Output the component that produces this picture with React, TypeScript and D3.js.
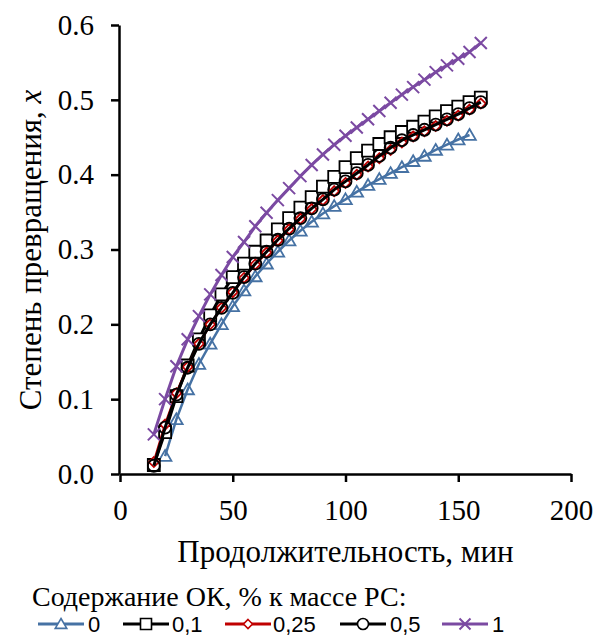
import React, { useEffect, useRef } from 'react';
import * as d3 from 'd3';

const times = [15, 20, 25, 30, 35, 40, 45, 50, 55, 60, 65, 70, 75, 80, 85, 90, 95, 100, 105, 110, 115, 120, 125, 130, 135, 140, 145, 150, 155, 160];

// series "0" starts at 20 min and ends at 155 min
const s0 = [null, 0.024, 0.073, 0.113, 0.147, 0.174, 0.2, 0.224, 0.245, 0.264, 0.281, 0.297, 0.312, 0.325, 0.337, 0.348, 0.358, 0.367, 0.377, 0.386, 0.394, 0.402, 0.41, 0.418, 0.425, 0.433, 0.44, 0.447, 0.453, null];
const s01 = [0.012, 0.056, 0.104, 0.145, 0.18, 0.212, 0.24, 0.263, 0.281, 0.297, 0.312, 0.327, 0.342, 0.356, 0.37, 0.384, 0.397, 0.41, 0.422, 0.432, 0.441, 0.45, 0.457, 0.464, 0.471, 0.478, 0.485, 0.491, 0.497, 0.503];
const s025 = [0.016, 0.066, 0.108, 0.143, 0.174, 0.2, 0.222, 0.243, 0.262, 0.28, 0.296, 0.312, 0.327, 0.341, 0.354, 0.366, 0.378, 0.389, 0.4, 0.411, 0.422, 0.433, 0.443, 0.451, 0.458, 0.465, 0.472, 0.479, 0.487, 0.495];
const s05 = [0.011, 0.062, 0.106, 0.142, 0.174, 0.2, 0.222, 0.242, 0.263, 0.281, 0.297, 0.313, 0.328, 0.342, 0.355, 0.367, 0.38, 0.391, 0.402, 0.413, 0.425, 0.436, 0.446, 0.453, 0.46, 0.467, 0.474, 0.481, 0.489, 0.497];
const s1 = [0.053, 0.1, 0.144, 0.18, 0.211, 0.24, 0.266, 0.29, 0.31, 0.331, 0.349, 0.366, 0.382, 0.398, 0.413, 0.427, 0.44, 0.452, 0.463, 0.474, 0.485, 0.496, 0.507, 0.517, 0.527, 0.537, 0.546, 0.555, 0.564, 0.576];

const seriesNames = ['0', '0,1', '0,25', '0,5', '1'];
const seriesColors = ['#4672A4', '#000000', '#C00000', '#000000', '#7B4AA2'];
const seriesMarkers = ['triangle', 'square', 'diamond', 'circle', 'x'];
const seriesValues = [s0, s01, s025, s05, s1];

const xTicks = [0, 50, 100, 150, 200];
const yTicks = [0, 0.1, 0.2, 0.3, 0.4, 0.5, 0.6];

const W = 598;
const H = 639;
const SERIF = '"Liberation Serif", Tinos, "Times New Roman", "Noto Serif", "DejaVu Serif", FreeSerif, serif';
const SANS = '"Liberation Sans", Arial, sans-serif';

function markerPath(kind: string, s: number) {
  const h = s / 2;
  switch (kind) {
    case 'triangle':
      return `M0,${-h}L${h * 1.05},${h * 0.8}L${-h * 1.05},${h * 0.8}Z`;
    case 'square':
      return `M${-h},${-h}H${h}V${h}H${-h}Z`;
    case 'diamond':
      return `M0,${-h}L${h},0L0,${h}L${-h},0Z`;
    case 'circle':
      return `M${h},0A${h},${h} 0 1,1 ${-h},0A${h},${h} 0 1,1 ${h},0Z`;
    default:
      return `M${-h},${-h}L${h},${h}M${h},${-h}L${-h},${h}`;
  }
}

const markerSize: Record<string, number> = { triangle: 12, square: 12, diamond: 10, circle: 12, x: 12 };
const markerFill: Record<string, string> = { triangle: 'none', square: 'white', diamond: 'white', circle: 'none', x: 'none' };

export default function App() {
  const xAxisRef = useRef<SVGGElement>(null);
  const yAxisRef = useRef<SVGGElement>(null);

  const x = d3.scaleLinear().domain([0, 200]).range([120, 571]);
  const y = d3.scaleLinear().domain([0, 0.6]).range([474, 25]);

  useEffect(() => {
    const xa = d3.select(xAxisRef.current!);
    xa.selectAll('*').remove();
    xa.call(d3.axisBottom(x).tickValues(xTicks).tickSize(8).tickSizeOuter(0).tickPadding(17).tickFormat(d3.format('d')));
    const ya = d3.select(yAxisRef.current!);
    ya.selectAll('*').remove();
    ya.call(d3.axisLeft(y).tickValues(yTicks).tickSize(8).tickSizeOuter(0).tickPadding(17).tickFormat(d3.format('.1f')));
    [xa, ya].forEach(a => {
      a.attr('font-family', null).attr('font-size', null);
      a.selectAll('path.domain').attr('stroke', '#000').attr('stroke-width', 2.5);
      a.selectAll('.tick line').attr('stroke', '#000').attr('stroke-width', 2.5);
      a.selectAll('.tick text')
        .attr('fill', '#000')
        .attr('font-family', SERIF)
        .attr('font-size', 29);
    });
  }, []);

  const line = d3.line<[number, number | null]>()
    .defined(d => d[1] !== null)
    .x(d => x(d[0]))
    .y(d => y(d[1] as number));

  const legendItems = [
    { x0: 38, label: 88 },
    { x0: 123, label: 172 },
    { x0: 225, label: 273 },
    { x0: 340, label: 390 },
    { x0: 442, label: 492 },
  ];

  return (
    <svg width={W} height={H} style={{ position: 'absolute', left: 0, top: 0, background: '#fff' }}>
      <g ref={xAxisRef} transform={`translate(0,${y(0)})`} />
      <g ref={yAxisRef} transform={`translate(${x(0) - 1},0)`} />

      {seriesValues.map((vals, i) => {
        const pts = times.map((t, k) => [t, vals[k]] as [number, number | null]);
        const kind = seriesMarkers[i];
        const lw = i === 0 || i === 2 ? 2.5 : 3;
        return (
          <g key={i}>
            <path d={line(pts) || ''} fill="none" stroke={seriesColors[i]} strokeWidth={lw} strokeLinejoin="round" />
            {pts.filter(p => p[1] !== null).map((p, k) => (
              <path
                key={k}
                d={markerPath(kind, markerSize[kind])}
                transform={`translate(${x(p[0])},${y(p[1] as number)})`}
                fill={markerFill[kind]}
                stroke={seriesColors[i]}
                strokeWidth={kind === 'x' ? 2 : 1.8}
              />
            ))}
          </g>
        );
      })}

      <text
        transform={`translate(41,250) rotate(-90)`}
        textAnchor="middle"
        fontFamily={SERIF}
        fontSize={31}
      >
        Степень превращения, <tspan fontStyle="italic">x</tspan>
      </text>

      <text x={(x(0) + x(200)) / 2} y={562} textAnchor="middle" fontFamily={SERIF} fontSize={31}>
        Продолжительность, мин
      </text>

      <text x={32} y={606} fontFamily={SERIF} fontSize={28}>
        Содержание ОК, % к массе РС:
      </text>

      {legendItems.map((it, i) => {
        const kind = seriesMarkers[i];
        const cy = 624;
        const cx = it.x0 + 23;
        return (
          <g key={i}>
            <line x1={it.x0} x2={it.x0 + 46} y1={cy} y2={cy} stroke={seriesColors[i]} strokeWidth={3} />
            <path
              d={markerPath(kind, markerSize[kind] - 1)}
              transform={`translate(${cx},${cy})`}
              fill={kind === 'x' ? 'none' : 'white'}
              stroke={seriesColors[i]}
              strokeWidth={kind === 'x' ? 2 : 1.6}
            />
            <text x={it.label} y={cy + 8} fontFamily={SANS} fontSize={22}>
              {seriesNames[i]}
            </text>
          </g>
        );
      })}
    </svg>
  );
}
